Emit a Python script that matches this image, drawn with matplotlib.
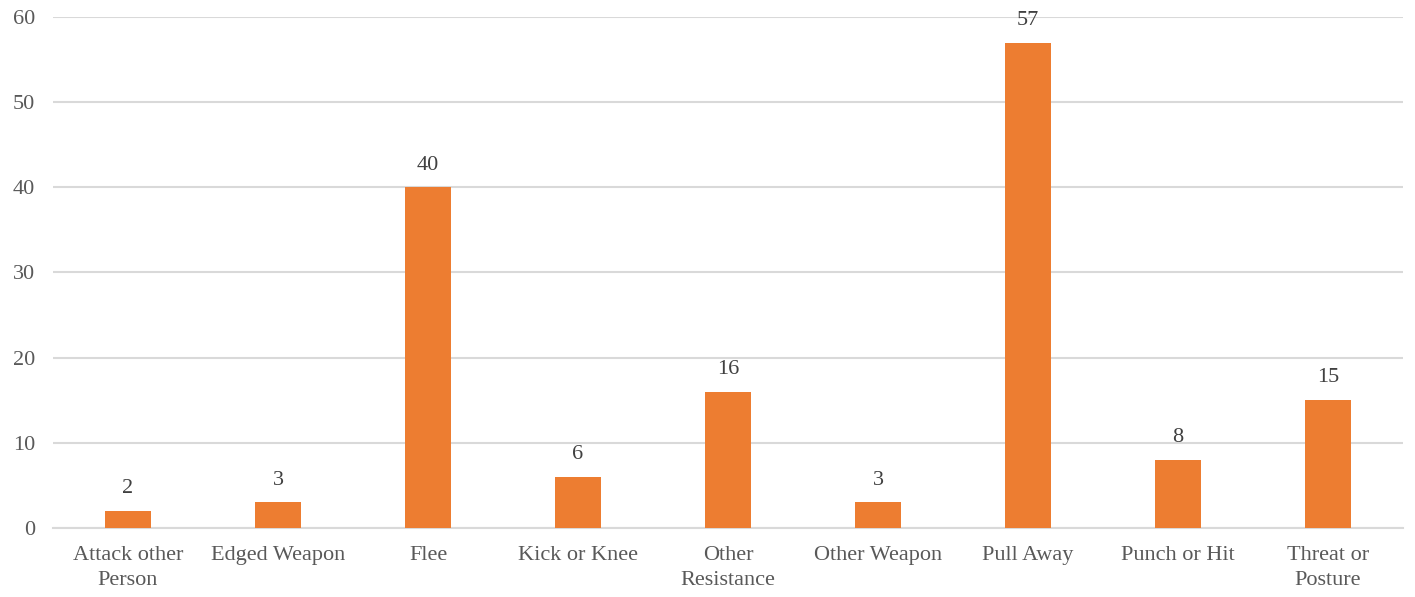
import matplotlib.pyplot as plt

categories = ["Attack other\nPerson", "Edged Weapon", "Flee", "Kick or Knee",
              "Other\nResistance", "Other Weapon", "Pull Away", "Punch or Hit",
              "Threat or\nPosture"]
counts = [2, 3, 40, 6, 16, 3, 57, 8, 15]
y_ticks = [0, 10, 20, 30, 40, 50, 60]

plt.rcParams['font.family'] = ['Liberation Serif', 'DejaVu Serif']

fig = plt.figure(figsize=(14.15, 5.97), dpi=100)
ax = fig.add_axes([0.0375, 0.1156, 0.954, 0.856])

x = list(range(len(categories)))
bars = ax.bar(x, counts, width=0.31, color='#ED7D31', zorder=3)
for xi, v in zip(x, counts):
    ax.text(xi, v + 1.5, str(v), ha='center', va='bottom', fontsize=16, color='#404040')

ax.set_xlim(-0.5, len(categories) - 0.5)
ax.set_ylim(0, 60)
ax.set_yticks(y_ticks)
ax.set_xticks(x)
ax.set_xticklabels(categories, fontsize=16, color='#595959', linespacing=1.4)
ax.tick_params(axis='y', labelsize=16, labelcolor='#595959', length=0, pad=13)
ax.tick_params(axis='x', length=0, pad=13)
ax.grid(axis='y', color='#d9d9d9', linewidth=1.5, zorder=0)
for s in ['top', 'right', 'left']:
    ax.spines[s].set_visible(False)
ax.spines['bottom'].set_color('#d9d9d9')
ax.spines['bottom'].set_linewidth(1.5)

fig.savefig('out.png', dpi=100)
